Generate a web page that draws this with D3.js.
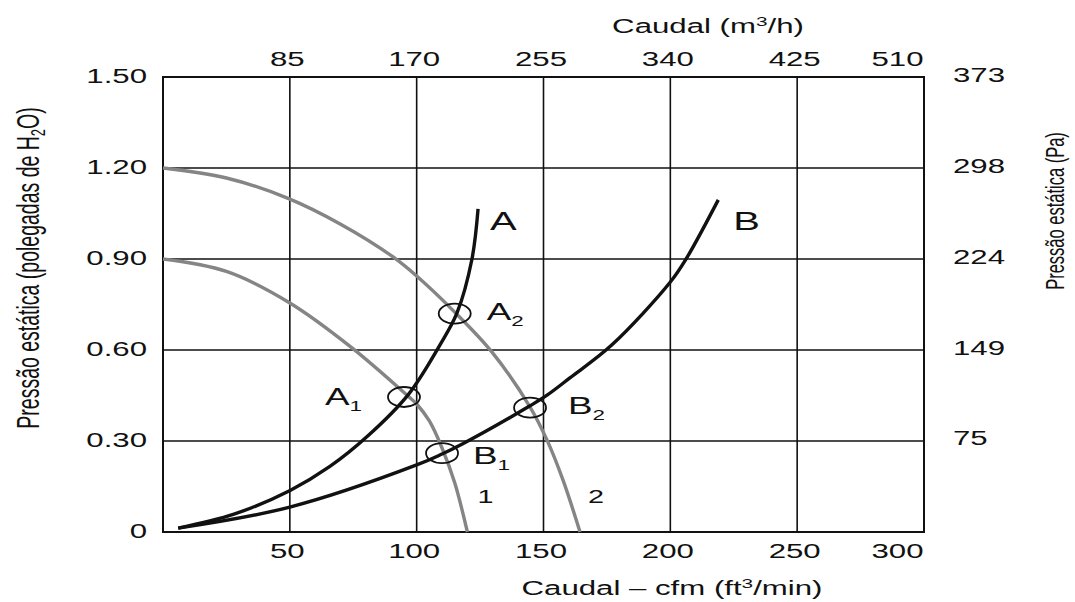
<!DOCTYPE html>
<html>
<head>
<meta charset="utf-8">
<script src="https://cdn.jsdelivr.net/npm/d3@7"></script>
<style>
  html, body { margin: 0; background: #fff; }
  svg { display: block; font-family: "Liberation Sans", Arial, Helvetica, sans-serif; }
</style>
</head>
<body>
<svg id="chart" width="1075" height="602"></svg>
<script>
// Axis ticks
const cfmTicks = [50, 100, 150, 200, 250, 300];
const m3hTicks = [85, 170, 255, 340, 425, 510];
const inchTicks = [0, 0.3, 0.6, 0.9, 1.2, 1.5];
const inchLabels = ["0", "0.30", "0.60", "0.90", "1.20", "1.50"];
const paTicks = [75, 149, 224, 298, 373];

// System curves A and B (cfm, in. H2O)
const systemA_cfm = [6, 28, 50.1, 65.8, 80.8, 96.6, 109.2, 115.9, 121.8, 124.2];
const systemA_in  = [0.013, 0.059, 0.137, 0.216, 0.317, 0.452, 0.617, 0.722, 0.90, 1.065];
const systemB_cfm = [6, 50, 100, 110, 118, 144.7, 151.4, 160.4, 177, 200, 206.2, 218.9];
const systemB_in  = [0.013, 0.082, 0.221, 0.257, 0.29, 0.416, 0.451, 0.508, 0.617, 0.824, 0.90, 1.095];

// Fan curves 1 and 2
const fan1_cfm = [0, 25, 50, 74.5, 96.6, 100, 105, 110, 115, 120];
const fan1_in  = [0.90, 0.859, 0.755, 0.607, 0.448, 0.422, 0.366, 0.277, 0.162, 0];
const fan2_cfm = [0, 25, 49.3, 70.2, 90.7, 100, 115, 129.7, 144.7, 151.4, 157.7, 164.4];
const fan2_in  = [1.20, 1.167, 1.10, 1.014, 0.907, 0.844, 0.725, 0.593, 0.412, 0.303, 0.171, 0];

// Operating points
const opNames = ["A", "A", "B", "B"];
const opSubs  = ["1", "2", "1", "2"];
const op_cfm  = [95, 115, 110, 144.7];
const op_in   = [0.445, 0.72, 0.26, 0.41];

const SX = 1.6; // horizontal stretch of the lettering
const svg = d3.select("#chart");

const plotL = 163, plotR = 924, plotT = 77, plotB = 532;
const x = d3.scaleLinear().domain([0, 300]).range([plotL, plotR]);
const xTop = d3.scaleLinear().domain([0, 510]).range([plotL, plotR]);
const y = d3.scaleLinear().domain([0, 1.5]).range([plotB, plotT]);
const yPa = d3.scaleLinear().domain([0, 373.5]).range([plotB, plotT]);

// Grid
const grid = svg.append("g").attr("stroke", "#111").attr("stroke-width", 1.6);
grid.selectAll("line.v").data(cfmTicks.slice(0, -1)).join("line")
  .attr("class", "v")
  .attr("x1", d => x(d)).attr("x2", d => x(d)).attr("y1", plotT).attr("y2", plotB);
grid.selectAll("line.h").data(inchTicks.slice(1, -1)).join("line")
  .attr("class", "h")
  .attr("x1", plotL).attr("x2", plotR).attr("y1", d => y(d)).attr("y2", d => y(d));
svg.append("rect").attr("x", plotL).attr("y", plotT)
  .attr("width", plotR - plotL).attr("height", plotB - plotT)
  .attr("fill", "none").attr("stroke", "#111").attr("stroke-width", 2);

// Axes (labels only)
function styleTicks(g, anchor, dx, dy, lastAnchor, lastDx) {
  g.select(".domain").remove();
  g.selectAll(".tick line").remove();
  const texts = g.selectAll(".tick text");
  const n = texts.size();
  texts.each(function(d, i) {
    const isLast = lastAnchor && i === n - 1;
    d3.select(this)
      .attr("x", 0).attr("y", 0).attr("dy", null)
      .attr("fill", "#111")
      .attr("font-size", 19.5)
      .attr("text-anchor", isLast ? lastAnchor : anchor)
      .attr("transform", `translate(${isLast ? lastDx : dx},${dy}) scale(${SX},1)`);
  });
}

svg.append("g").attr("transform", `translate(0,${plotB})`)
  .call(d3.axisBottom(x).tickValues(cfmTicks).tickFormat(d3.format("d")))
  .call(g => styleTicks(g, "middle", -3, 26, "end", -1));

svg.append("g").attr("transform", `translate(0,${plotT})`)
  .call(d3.axisTop(xTop).tickValues(m3hTicks).tickFormat(d3.format("d")))
  .call(g => styleTicks(g, "middle", -3, -11, "end", -1));

svg.append("g").attr("transform", `translate(${plotL},0)`)
  .call(d3.axisLeft(y).tickValues(inchTicks).tickFormat((d, i) => inchLabels[i]))
  .call(g => styleTicks(g, "end", -16, 5));

svg.append("g").attr("transform", `translate(${plotR},0)`)
  .call(d3.axisRight(yPa).tickValues(paTicks).tickFormat(d3.format("d")))
  .call(g => styleTicks(g, "start", 29, 4));

// Axis titles
const topTitle = svg.append("text").attr("font-size", 19.5).attr("fill", "#111")
  .attr("text-anchor", "middle").attr("transform", `translate(708,33) scale(${SX},1)`);
topTitle.append("tspan").text("Caudal (m");
topTitle.append("tspan").attr("font-size", 13).attr("dy", -7).text("3");
topTitle.append("tspan").attr("dy", 7).text("/h)");

const botTitle = svg.append("text").attr("font-size", 19.5).attr("fill", "#111")
  .attr("text-anchor", "middle").attr("transform", `translate(672,595) scale(${SX},1)`);
botTitle.append("tspan").text("Caudal \u2013 cfm (ft");
botTitle.append("tspan").attr("font-size", 13).attr("dy", -7).text("3");
botTitle.append("tspan").attr("dy", 7).text("/min)");

const leftTitle = svg.append("text").attr("font-size", 19.5).attr("fill", "#111")
  .attr("text-anchor", "middle")
  .attr("transform", `translate(39,268) rotate(-90) scale(1,${SX})`);
leftTitle.append("tspan").text("Press\u00e3o est\u00e1tica (polegadas de H");
leftTitle.append("tspan").attr("font-size", 13).attr("dy", 4).text("2");
leftTitle.append("tspan").attr("dy", -4).text("O)");

svg.append("text").attr("font-size", 16.5).attr("fill", "#111")
  .attr("text-anchor", "middle")
  .attr("transform", `translate(1064,211) rotate(-90) scale(1,${SX})`)
  .text("Press\u00e3o est\u00e1tica (Pa)");

// Curves (centripetal Catmull-Rom keeps the steep ends smooth)
const line = d3.line().x(d => x(d[0])).y(d => y(d[1])).curve(d3.curveCatmullRom.alpha(0.5));
const curves = [
  { c: fan1_cfm, p: fan1_in, color: "#858585" },
  { c: fan2_cfm, p: fan2_in, color: "#858585" },
  { c: systemA_cfm, p: systemA_in, color: "#111" },
  { c: systemB_cfm, p: systemB_in, color: "#111" }
];
svg.append("g").selectAll("path").data(curves).join("path")
  .attr("d", d => line(d3.zip(d.c, d.p)))
  .attr("fill", "none")
  .attr("stroke", d => d.color)
  .attr("stroke-width", 3.4)
  .attr("stroke-linecap", "butt");

// Operating point markers
const ops = d3.range(op_cfm.length).map(i => ({ n: opNames[i], s: opSubs[i], c: op_cfm[i], p: op_in[i] }));
svg.append("g").selectAll("ellipse").data(ops).join("ellipse")
  .attr("cx", d => x(d.c)).attr("cy", d => y(d.p))
  .attr("rx", 16).attr("ry", 10)
  .attr("fill", "none").attr("stroke", "#111").attr("stroke-width", 1.8);

// Operating point labels
const labelOffsets = [[-79, 8], [32, 6], [31, 11], [38, 6]];
ops.forEach((d, i) => {
  const t = svg.append("text").attr("font-size", 23).attr("fill", "#111")
    .attr("transform", `translate(${x(d.c) + labelOffsets[i][0]},${y(d.p) + labelOffsets[i][1]}) scale(${SX},1)`);
  t.append("tspan").text(d.n);
  t.append("tspan").attr("font-size", 14).attr("dy", 6).text(d.s);
});

// Curve labels
function label(txt, cx, cy, dx, dy, size) {
  svg.append("text").attr("font-size", size).attr("fill", "#111")
    .attr("transform", `translate(${x(cx) + dx},${y(cy) + dy}) scale(${SX},1)`)
    .text(txt);
}
label("A", systemA_cfm[systemA_cfm.length - 1], systemA_in[systemA_in.length - 1], 12, 21, 25);
label("B", systemB_cfm[systemB_cfm.length - 1], systemB_in[systemB_in.length - 1], 15, 30, 25);
label("1", fan1_cfm[fan1_cfm.length - 1], 0, 10, -29, 18);
label("2", fan2_cfm[fan2_cfm.length - 1], 0, 8, -29, 18);
</script>
</body>
</html>
